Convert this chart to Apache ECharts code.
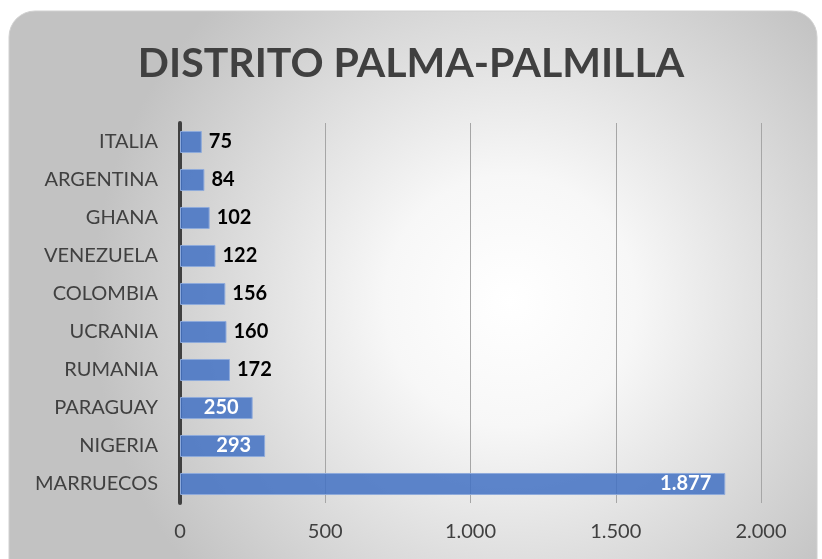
<!DOCTYPE html>
<html>
<head>
<meta charset="utf-8">
<script src="https://cdn.jsdelivr.net/npm/echarts@6/dist/echarts.min.js"></script>
<style>
  html, body {margin: 0; padding: 0; background: #fff;}
  #chart {width: 822px; height: 559px;}
</style>
</head>
<body>
<div id="chart"></div>
<script>
// datos (de arriba a abajo)
let paises = ['ITALIA', 'ARGENTINA', 'GHANA', 'VENEZUELA', 'COLOMBIA', 'UCRANIA', 'RUMANIA', 'PARAGUAY', 'NIGERIA', 'MARRUECOS'];
let valores = [75, 84, 102, 122, 156, 160, 172, 250, 293, 1877];
let ticks = [0, 500, 1000, 1500, 2000];

let fuente = 'Lato';

function miles(v) {
    return String(v).replace(/\B(?=(\d{3})+(?!\d))/g, '.');
}

let serieData = valores.map(function (v) {
    let dentro = v >= 200;
    return {
        value: v,
        label: dentro ? {position: 'insideRight', distance: 14, color: '#fff'}
                      : {position: 'right', distance: 7, color: '#000'}
    };
});

let chart = echarts.init(document.getElementById('chart'));
chart.setOption({
    animation: false,
    graphic: [{
        type: 'rect', z: -10, silent: true,
        shape: {x: 9, y: 11, width: 808, height: 580, r: 26},
        style: {
            fill: new echarts.graphic.RadialGradient(0.62, 0.5, 0.72, [
                {offset: 0, color: '#ffffff'},
                {offset: 0.3, color: '#f7f7f7'},
                {offset: 1, color: '#c2c2c2'}
            ]),
            stroke: '#d0d0d0', lineWidth: 1
        }
    }],
    title: {
        text: 'DISTRITO PALMA-PALMILLA',
        left: 'center', top: 38,
        textStyle: {fontFamily: fuente, fontWeight: 'bold', fontSize: 41, color: '#404040'}
    },
    grid: {left: 180, right: 61, top: 123, bottom: 56, containLabel: false},
    xAxis: {
        type: 'value', min: 0, max: 2000, interval: 500,
        axisLine: {show: false}, axisTick: {show: false},
        splitLine: {lineStyle: {color: '#a6a6a6', width: 1}},
        axisLabel: {
            margin: 19, color: '#404040', fontFamily: fuente, fontSize: 20,
            formatter: function (v) { return ticks.indexOf(v) >= 0 ? miles(v) : ''; }
        }
    },
    yAxis: {
        type: 'category', data: paises, inverse: true,
        axisLine: {show: true, onZero: false, lineStyle: {color: '#404040', width: 4}},
        axisTick: {show: false},
        axisLabel: {margin: 22, color: '#404040', fontFamily: fuente, fontSize: 20}
    },
    series: [{
        type: 'bar', data: serieData, barWidth: '58%',
        itemStyle: {color: 'rgba(68,114,196,0.86)', borderColor: '#8eaadb', borderWidth: 1},
        label: {
            show: true, fontFamily: fuente, fontWeight: 'bold', fontSize: 20,
            formatter: function (p) { return miles(p.value); }
        }
    }]
});
</script>
</body>
</html>
